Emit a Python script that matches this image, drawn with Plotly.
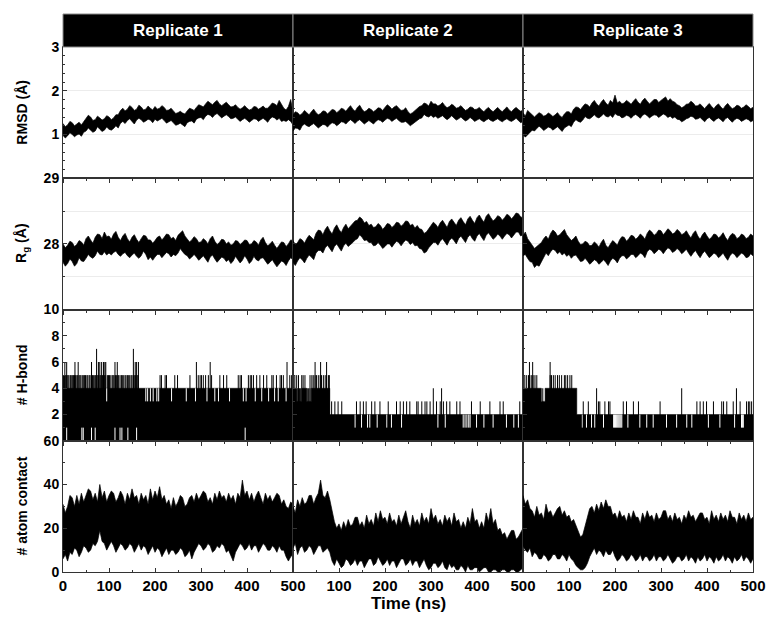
import plotly.graph_objects as go
from plotly.subplots import make_subplots

# ---------------- data ----------------
t_fine = list(range(0, 501, 5))

# RMSD (Å) envelopes, upper / lower, every 5 ns
rmsd_hi_r1 = [1.25,1.18,1.22,1.30,1.27,1.20,1.24,1.28,1.22,1.30,1.36,1.44,1.40,1.32,1.34,1.42,1.38,1.33,1.36,1.43,1.40,1.34,1.38,1.45,1.45,1.55,1.60,1.54,1.58,1.66,1.62,1.55,1.58,1.67,1.63,1.56,1.58,1.65,1.60,1.56,1.64,1.58,1.60,1.66,1.62,1.55,1.56,1.60,1.54,1.48,1.50,1.53,1.49,1.47,1.54,1.60,1.58,1.55,1.62,1.68,1.66,1.63,1.70,1.76,1.72,1.68,1.74,1.78,1.70,1.66,1.70,1.74,1.68,1.63,1.64,1.68,1.62,1.58,1.61,1.66,1.60,1.56,1.58,1.64,1.63,1.58,1.61,1.65,1.60,1.60,1.66,1.72,1.70,1.66,1.78,1.68,1.60,1.56,1.64,1.80,1.50]
rmsd_lo_r1 = [0.98,0.92,0.97,1.04,1.00,0.95,0.99,1.01,0.96,1.05,1.08,1.15,1.10,1.05,1.08,1.18,1.12,1.07,1.10,1.17,1.12,1.10,1.14,1.20,1.15,1.26,1.30,1.25,1.32,1.36,1.30,1.24,1.33,1.37,1.34,1.28,1.31,1.35,1.33,1.27,1.35,1.31,1.34,1.37,1.32,1.26,1.29,1.32,1.27,1.21,1.23,1.26,1.22,1.18,1.27,1.30,1.31,1.26,1.35,1.38,1.39,1.34,1.42,1.46,1.44,1.39,1.45,1.48,1.43,1.38,1.42,1.45,1.41,1.36,1.37,1.40,1.35,1.30,1.34,1.37,1.33,1.28,1.32,1.36,1.35,1.30,1.34,1.37,1.33,1.28,1.36,1.40,1.38,1.33,1.37,1.30,1.32,1.30,1.34,1.30,1.22]
rmsd_hi_r2 = [1.45,1.52,1.50,1.44,1.48,1.55,1.50,1.45,1.52,1.58,1.50,1.45,1.48,1.54,1.53,1.47,1.52,1.57,1.56,1.50,1.54,1.60,1.58,1.53,1.60,1.66,1.58,1.53,1.62,1.67,1.58,1.52,1.55,1.60,1.57,1.52,1.56,1.61,1.60,1.55,1.62,1.68,1.64,1.58,1.63,1.66,1.60,1.55,1.56,1.61,1.52,1.47,1.50,1.55,1.58,1.64,1.66,1.72,1.70,1.65,1.76,1.70,1.70,1.65,1.68,1.73,1.66,1.61,1.64,1.69,1.66,1.60,1.62,1.66,1.60,1.55,1.58,1.63,1.62,1.57,1.58,1.62,1.56,1.52,1.58,1.62,1.56,1.52,1.57,1.62,1.56,1.52,1.58,1.63,1.56,1.52,1.58,1.62,1.57,1.53,1.56]
rmsd_lo_r2 = [1.08,1.15,1.14,1.10,1.20,1.24,1.20,1.18,1.22,1.25,1.20,1.15,1.19,1.23,1.22,1.17,1.23,1.27,1.25,1.20,1.24,1.29,1.28,1.24,1.30,1.34,1.30,1.25,1.31,1.34,1.29,1.24,1.28,1.32,1.28,1.24,1.30,1.34,1.32,1.28,1.33,1.37,1.35,1.30,1.34,1.37,1.32,1.28,1.28,1.30,1.25,1.20,1.23,1.28,1.32,1.36,1.38,1.46,1.42,1.40,1.44,1.39,1.42,1.37,1.40,1.43,1.38,1.34,1.38,1.43,1.38,1.33,1.36,1.40,1.35,1.31,1.34,1.39,1.35,1.30,1.33,1.36,1.32,1.29,1.33,1.36,1.32,1.30,1.33,1.36,1.32,1.29,1.33,1.36,1.32,1.30,1.33,1.37,1.32,1.27,1.30]
rmsd_hi_r3 = [1.50,1.42,1.55,1.50,1.46,1.40,1.45,1.50,1.47,1.42,1.44,1.49,1.46,1.41,1.45,1.50,1.43,1.39,1.47,1.52,1.52,1.47,1.58,1.63,1.62,1.57,1.64,1.70,1.68,1.63,1.72,1.78,1.70,1.65,1.74,1.80,1.72,1.67,1.78,1.72,1.90,1.72,1.76,1.70,1.72,1.78,1.74,1.69,1.76,1.82,1.74,1.69,1.78,1.83,1.76,1.70,1.75,1.80,1.80,1.73,1.78,1.83,1.86,1.76,1.82,1.76,1.74,1.68,1.66,1.61,1.64,1.69,1.70,1.76,1.72,1.65,1.66,1.70,1.64,1.59,1.66,1.71,1.64,1.59,1.66,1.70,1.63,1.58,1.66,1.71,1.64,1.59,1.62,1.67,1.65,1.60,1.63,1.68,1.64,1.59,1.62]
rmsd_lo_r3 = [1.00,0.94,0.98,1.05,1.10,1.08,1.14,1.19,1.15,1.09,1.13,1.17,1.15,1.10,1.14,1.18,1.12,1.07,1.15,1.19,1.22,1.18,1.28,1.34,1.30,1.28,1.33,1.41,1.37,1.36,1.40,1.45,1.40,1.38,1.42,1.47,1.42,1.40,1.44,1.39,1.48,1.44,1.43,1.38,1.40,1.44,1.42,1.37,1.43,1.46,1.42,1.37,1.44,1.47,1.43,1.38,1.42,1.45,1.44,1.39,1.43,1.47,1.44,1.39,1.42,1.37,1.40,1.35,1.34,1.29,1.32,1.36,1.38,1.42,1.40,1.35,1.36,1.39,1.34,1.29,1.36,1.39,1.34,1.30,1.35,1.38,1.34,1.29,1.36,1.39,1.33,1.28,1.34,1.37,1.35,1.30,1.33,1.36,1.34,1.29,1.32]

# Radius of gyration (Å), every 5 ns
rg_hi_r1 = [28.00,27.94,27.98,28.04,28.02,27.96,27.99,28.05,28.03,27.98,28.08,28.12,28.06,28.01,28.10,28.15,28.14,28.08,28.18,28.11,28.12,28.07,28.15,28.19,28.10,28.05,28.12,28.16,28.08,28.03,28.10,28.14,28.07,28.02,28.08,28.13,28.12,28.06,28.06,28.01,28.05,28.10,28.12,28.06,28.10,28.15,28.14,28.08,28.10,28.05,28.13,28.17,28.20,28.12,28.08,28.03,28.06,28.11,28.08,28.02,28.03,28.08,28.05,28.00,28.08,28.12,28.04,27.99,28.02,28.07,28.06,28.00,28.03,27.98,28.00,28.05,28.04,27.99,28.02,28.06,28.05,27.99,28.00,28.05,28.03,27.98,28.06,28.10,28.02,27.97,28.00,28.04,27.98,27.93,27.98,28.03,28.02,27.96,28.00,28.06,28.05]
rg_lo_r1 = [27.72,27.66,27.70,27.77,27.73,27.66,27.70,27.79,27.74,27.73,27.78,27.84,27.80,27.78,27.82,27.89,27.84,27.83,27.88,27.83,27.86,27.83,27.87,27.89,27.84,27.81,27.85,27.87,27.82,27.79,27.83,27.86,27.81,27.78,27.82,27.89,27.84,27.76,27.80,27.75,27.80,27.84,27.84,27.79,27.83,27.87,27.85,27.80,27.84,27.82,27.86,27.93,27.88,27.84,27.82,27.77,27.80,27.84,27.80,27.75,27.78,27.82,27.77,27.72,27.80,27.83,27.77,27.72,27.76,27.80,27.78,27.73,27.76,27.70,27.74,27.81,27.76,27.71,27.75,27.82,27.77,27.70,27.74,27.81,27.76,27.74,27.78,27.79,27.74,27.69,27.72,27.76,27.70,27.65,27.70,27.74,27.72,27.67,27.74,27.79,27.76]
rg_hi_r2 = [28.05,27.99,28.02,28.08,28.06,28.01,28.08,28.13,28.10,28.06,28.16,28.21,28.20,28.14,28.22,28.27,28.20,28.15,28.24,28.29,28.22,28.17,28.25,28.30,28.23,28.27,28.30,28.35,28.36,28.41,28.38,28.32,28.34,28.28,28.30,28.25,28.26,28.31,28.28,28.22,28.26,28.31,28.30,28.25,28.28,28.33,28.32,28.27,28.30,28.35,28.34,28.28,28.30,28.24,28.28,28.23,28.22,28.16,28.18,28.24,28.28,28.33,28.30,28.25,28.32,28.36,28.30,28.25,28.34,28.38,28.33,28.28,28.36,28.40,28.34,28.29,28.38,28.42,28.36,28.31,28.40,28.44,28.38,28.33,28.42,28.46,28.40,28.35,28.38,28.43,28.41,28.36,28.40,28.45,28.43,28.38,28.42,28.47,28.46,28.41,28.40]
rg_lo_r2 = [27.72,27.67,27.74,27.79,27.76,27.71,27.78,27.83,27.80,27.76,27.86,27.90,27.90,27.86,27.94,27.98,27.93,27.88,27.96,28.00,27.94,27.89,27.97,28.01,27.96,27.99,28.02,28.06,28.08,28.14,28.10,28.05,28.06,28.02,28.02,27.97,27.98,28.02,27.98,27.93,27.96,28.00,28.00,27.95,28.00,28.04,28.02,27.97,28.02,28.06,28.04,27.99,28.02,27.97,27.98,27.93,27.92,27.86,27.88,27.94,27.98,28.02,28.02,27.98,28.04,28.08,28.03,27.98,28.05,28.09,28.05,28.00,28.08,28.12,28.07,28.02,28.10,28.14,28.08,28.04,28.12,28.16,28.10,28.05,28.13,28.17,28.12,28.07,28.10,28.15,28.12,28.07,28.12,28.16,28.14,28.09,28.14,28.18,28.18,28.12,28.14]
rg_hi_r3 = [28.12,28.18,28.08,28.02,27.98,27.93,27.96,28.00,28.02,28.08,28.12,28.07,28.16,28.21,28.18,28.12,28.14,28.18,28.22,28.14,28.10,28.05,28.08,28.12,28.04,27.99,28.00,28.04,28.02,27.97,27.98,28.03,28.00,27.95,28.02,28.07,27.98,27.94,28.00,28.05,28.02,27.98,28.06,28.11,28.10,28.04,28.08,28.13,28.12,28.07,28.10,28.15,28.12,28.07,28.16,28.21,28.18,28.13,28.16,28.21,28.20,28.14,28.18,28.23,28.20,28.15,28.17,28.22,28.19,28.14,28.16,28.20,28.14,28.09,28.16,28.20,28.12,28.07,28.14,28.18,28.12,28.07,28.10,28.15,28.14,28.09,28.12,28.17,28.10,28.05,28.12,28.16,28.14,28.08,28.10,28.15,28.13,28.08,28.10,28.15,28.12]
rg_lo_r3 = [27.82,27.84,27.78,27.73,27.72,27.64,27.68,27.66,27.72,27.80,27.86,27.82,27.88,27.92,27.90,27.85,27.88,27.83,27.86,27.81,27.84,27.78,27.82,27.83,27.78,27.73,27.74,27.78,27.74,27.69,27.72,27.76,27.74,27.69,27.72,27.76,27.72,27.67,27.74,27.78,27.76,27.71,27.78,27.82,27.82,27.77,27.80,27.84,27.84,27.79,27.82,27.86,27.84,27.79,27.88,27.92,27.90,27.85,27.88,27.92,27.90,27.85,27.90,27.94,27.92,27.87,27.89,27.93,27.90,27.85,27.88,27.92,27.86,27.81,27.86,27.90,27.84,27.79,27.85,27.89,27.84,27.79,27.82,27.86,27.84,27.79,27.82,27.86,27.80,27.75,27.82,27.86,27.84,27.79,27.82,27.86,27.84,27.79,27.80,27.85,27.82]

# Atom contacts, upper / lower, every 5 ns
ac_hi_r1 = [31,27,30,35,34,30,35,31,36,32,35,38,37,33,36,32,40,34,37,32,35,37,36,32,34,37,35,31,36,33,38,34,35,31,36,33,35,31,38,33,37,34,39,33,35,31,33,29,34,30,32,35,34,30,31,34,35,32,36,33,35,37,36,32,34,31,36,33,37,34,35,32,36,33,35,31,36,34,42,35,37,33,36,32,35,37,34,31,36,33,35,32,34,36,35,31,33,30,29,32,31]
ac_lo_r1 = [6,8,5,9,8,11,10,7,9,12,11,9,10,13,12,14,19,14,13,10,12,14,12,9,11,13,12,10,11,13,12,9,11,13,10,12,11,8,10,12,9,11,10,7,9,11,8,10,10,8,9,11,10,7,8,10,6,9,11,13,12,10,11,13,12,9,10,12,11,13,12,9,10,8,5,9,11,13,12,10,11,13,10,12,12,9,11,13,12,10,10,12,11,9,12,10,10,7,5,7,8]
ac_hi_r2 = [30,27,33,30,34,31,32,35,35,31,34,36,42,35,34,37,33,28,23,20,22,19,23,20,24,21,22,25,25,21,23,20,26,22,24,21,27,23,28,24,25,22,27,23,24,21,26,22,25,28,23,20,26,22,24,21,27,23,25,22,29,24,26,22,24,21,26,23,25,21,27,23,24,20,23,20,25,22,29,23,24,20,23,20,27,23,29,22,24,19,20,17,18,15,17,19,19,15,16,18,20]
ac_lo_r2 = [11,13,8,11,12,9,10,12,11,8,10,12,12,9,10,11,9,5,3,6,4,2,3,6,5,3,4,6,3,5,5,2,4,6,6,3,4,7,5,3,4,6,3,5,5,2,4,6,6,3,4,6,3,5,5,2,4,6,3,1,2,4,4,2,3,5,2,1,4,2,3,1,1,3,2,0,3,1,1,2,2,0,1,2,2,0,0,1,1,0,0,1,1,0,0,1,1,0,0,1,2]
ac_hi_r3 = [35,31,33,29,28,25,30,26,27,24,31,27,28,25,27,29,30,26,28,25,26,23,24,21,18,16,17,21,26,29,30,27,31,28,32,29,33,30,30,26,27,24,28,25,26,23,27,24,28,25,25,22,27,24,28,25,26,23,27,24,25,28,28,24,26,23,27,24,25,22,26,24,28,25,26,23,25,27,27,24,25,22,28,24,26,23,27,24,26,23,28,25,25,22,27,24,26,23,27,24,25]
ac_lo_r3 = [12,10,9,11,7,9,8,6,6,8,7,5,6,8,8,6,6,8,7,5,8,6,5,3,2,1,1,2,4,7,9,11,8,10,9,7,10,8,8,10,7,5,6,8,7,5,6,8,7,5,6,8,5,7,7,5,6,8,5,7,7,5,6,8,6,4,5,7,7,5,6,8,5,7,6,4,7,5,6,8,5,7,6,4,7,5,6,8,5,7,6,4,7,5,6,8,5,7,6,4,6]

# H-bonds: solid level segments (start time, level)
hb_seg_t_r1 = [0]
hb_seg_v_r1 = [4]
hb_seg_t_r2 = [0, 7, 19, 30, 40, 80]
hb_seg_v_r2 = [4, 3, 4, 3, 4, 2]
hb_seg_t_r3 = [0, 40, 48, 117]
hb_seg_v_r3 = [4, 3, 4, 2]

# H-bonds: single-frame spikes (times reaching the given count)
hb_spk5_r1 = [1,3,5,7,9,11,13,16,18,21,23,25,27,30,32,35,37,39,42,45,47,49,52,54,57,59,62,64,66,69,71,74,76,78,81,83,86,88,90,93,97,99,101,104,107,109,111,114,116,119,121,124,127,129,132,135,137,140,142,145,148,150,153,156,158,161,163,
              211,214,222,225,243,249,276,294,298,301,305,310,316,323,341,349,356,381,385,388,403,407,410,414,421,428,436,443,454,457,464,472,475,479,493,497]
hb_spk6_r1 = [4,8,26,33,62,77,80,84,88,91,93,113,118,157,160,164,290,320,487]
hb_spk7_r1 = [73,153]
hb_spk3_r2 = [84,91,98,106,138,146,153,159,171,178,189,207,225,233,240,247,254,269,272,280,287,291,298,312,320,327,334,341,356,363,388,407,428,450,457,493,499]
hb_spk4_r2 = [9,11,14,16,31,34,37,305,323]
hb_spk5_r2 = [4,8,12,19,22,26,37,41,44,48,51,55,59,62,66,70,73,77,79]
hb_spk6_r2 = [48,60,73]
hb_spk3_r3 = [131,142,164,167,178,186,189,218,225,240,251,298,378,385,392,399,414,432,436,443,457,472,486,490,493,497]
hb_spk4_r3 = [43,160,345,464]
hb_spk5_r3 = [4,8,12,15,19,22,26,30,59,62,66,70,75,79,84,90,93,97,102,106]
hb_spk6_r3 = [14,21,59]

# H-bonds: frames where a band is not covered (time)
hb_gap01_r1 = [8,41,44,62,70,113,124,128,141,160,396]
hb_gap34_r1 = [95,180,184,190,196,204,208,236,268,288,313,330,338,362,392,398,418,432,447,460,468,485]
hb_gap12_r2 = [135,149,162,167,183,204,214,236,315,331,370,374,378,382,385,399,415,435,464,480,490]
hb_gap12_r3 = [129,138,149,156,175,197,199,201,203,205,207,209,211,213,215,228,254,269,283,312,334,356,367,403,428,460,475,477,479]

replicates = ["Replicate 1", "Replicate 2", "Replicate 3"]
x_ticks = [0, 100, 200, 300, 400, 500]
rmsd_ticks = [1, 2, 3]
rg_ticks = [28, 29]
hb_ticks = [2, 4, 6, 8, 10]
ac_ticks = [0, 20, 40, 60]
row_titles = ["RMSD (Å)", "R<sub>g</sub> (Å)", "# H-bond", "# atom contact"]

# ---------------- figure ----------------
W, H = 767, 620
ML, MR, MT, MB = 63, 14, 47, 48
PW, PH = W - ML - MR, H - MT - MB

fig = make_subplots(rows=4, cols=3, horizontal_spacing=0, vertical_spacing=0)

FONT = "Liberation Sans, Arial, sans-serif"


def band(hi, lo, row, col):
    tt = t_fine[:min(len(hi), len(lo))]
    hi, lo = hi[:len(tt)], lo[:len(tt)]
    fig.add_trace(go.Scatter(
        x=tt + tt[::-1], y=hi + lo[::-1], mode="lines",
        fill="toself", fillcolor="black",
        line=dict(color="black", width=0.7), hoverinfo="skip", showlegend=False),
        row=row, col=col)


def steps(seg_t, seg_v, col):
    xs, ys = [0], [0]
    for i, (s, v) in enumerate(zip(seg_t, seg_v)):
        e = seg_t[i + 1] if i + 1 < len(seg_t) else 500
        xs += [s, e]
        ys += [v, v]
    xs += [500, 0]
    ys += [0, 0]
    fig.add_trace(go.Scatter(x=xs, y=ys, mode="lines", fill="toself",
                             fillcolor="black", line=dict(color="black", width=0.5),
                             hoverinfo="skip", showlegend=False), row=3, col=col)


def lines(times, lo, hi, col, color):
    xs, ys = [], []
    for t in times:
        xs += [t, t, None]
        ys += [lo, hi, None]
    fig.add_trace(go.Scatter(x=xs, y=ys, mode="lines",
                             line=dict(color=color, width=1),
                             hoverinfo="skip", showlegend=False), row=3, col=col)


band(rmsd_hi_r1, rmsd_lo_r1, 1, 1)
band(rmsd_hi_r2, rmsd_lo_r2, 1, 2)
band(rmsd_hi_r3, rmsd_lo_r3, 1, 3)
band(rg_hi_r1, rg_lo_r1, 2, 1)
band(rg_hi_r2, rg_lo_r2, 2, 2)
band(rg_hi_r3, rg_lo_r3, 2, 3)
band(ac_hi_r1, ac_lo_r1, 4, 1)
band(ac_hi_r2, ac_lo_r2, 4, 2)
band(ac_hi_r3, ac_lo_r3, 4, 3)

# replicate 1 H-bonds
steps(hb_seg_t_r1, hb_seg_v_r1, 1)
lines(hb_spk5_r1, 0, 5, 1, "black")
lines(hb_spk6_r1, 0, 6, 1, "black")
lines(hb_spk7_r1, 0, 7, 1, "black")
lines(hb_gap01_r1, 0, 1, 1, "white")
lines(hb_gap34_r1, 3, 4, 1, "white")
# replicate 2 H-bonds
steps(hb_seg_t_r2, hb_seg_v_r2, 2)
lines(hb_gap12_r2, 1, 2, 2, "white")
lines(hb_spk3_r2, 0, 3, 2, "black")
lines(hb_spk4_r2, 0, 4, 2, "black")
lines(hb_spk5_r2, 0, 5, 2, "black")
lines(hb_spk6_r2, 0, 6, 2, "black")
# replicate 3 H-bonds
steps(hb_seg_t_r3, hb_seg_v_r3, 3)
lines(hb_gap12_r3, 1, 2, 3, "white")
lines(hb_spk3_r3, 0, 3, 3, "black")
lines(hb_spk4_r3, 0, 4, 3, "black")
lines(hb_spk5_r3, 0, 5, 3, "black")
lines(hb_spk6_r3, 0, 6, 3, "black")

AX = "#333333"
row_cfg = {
    1: dict(range=[0, 3], tickvals=rmsd_ticks, minor=0.2, grid=True, mgrid=False),
    2: dict(range=[27, 29], tickvals=rg_ticks, minor=0.5, grid=True, mgrid=True),
    3: dict(range=[0, 10], tickvals=hb_ticks, minor=1, grid=False, mgrid=False),
    4: dict(range=[0, 60], tickvals=ac_ticks, minor=10, grid=False, mgrid=False),
}

for r in range(1, 5):
    for c in range(1, 4):
        cfg = row_cfg[r]
        fig.update_yaxes(
            range=cfg["range"], tickvals=cfg["tickvals"], automargin=False,
            ticks="inside", ticklen=4, tickwidth=1, tickcolor=AX,
            showline=True, linecolor=AX, linewidth=1, mirror=True,
            showgrid=cfg["grid"], gridcolor="#ececec", gridwidth=1, zeroline=False,
            showticklabels=(c == 1),
            tickfont=dict(family=FONT, size=14, color="black", weight="bold"),
            minor=dict(dtick=cfg["minor"], tick0=0, ticks="inside", ticklen=2,
                       tickcolor=AX, showgrid=cfg["mgrid"], gridcolor="#ececec"),
            row=r, col=c)
        fig.update_xaxes(
            range=[0, 500], automargin=False,
            tickvals=(x_ticks if c == 1 else x_ticks[1:]),
            ticks=("inside" if r == 4 else "outside"), ticklen=4, tickwidth=1, tickcolor=AX,
            showline=True, linecolor=AX, linewidth=1, mirror=True,
            showgrid=False, zeroline=False,
            showticklabels=(r == 4),
            tickfont=dict(family=FONT, size=15, color="black", weight="bold"),
            minor=dict(dtick=50, tick0=0, ticks=("inside" if r == 4 else "outside"),
                       ticklen=2, tickcolor=AX),
            row=r, col=c)

# header boxes
hdr_h = 33 / PH
for i, name in enumerate(replicates):
    fig.add_shape(type="rect", xref="paper", yref="paper",
                  x0=i / 3, x1=(i + 1) / 3, y0=1, y1=1 + hdr_h,
                  fillcolor="black", line=dict(color="#8a8a8a", width=1))
    fig.add_annotation(xref="paper", yref="paper", x=(i + 0.5) / 3, y=1 + hdr_h / 2,
                       text=name, showarrow=False, xanchor="center", yanchor="middle",
                       font=dict(family=FONT, size=17, color="white", weight="bold"))

# row titles
for k, title in enumerate(row_titles):
    fig.add_annotation(xref="paper", yref="paper", x=(22 - ML) / PW,
                       y=1 - (k + 0.5) / 4, text=title, textangle=-90, showarrow=False,
                       xanchor="center", yanchor="middle",
                       font=dict(family=FONT, size=14, color="black", weight="bold"))

fig.add_annotation(xref="paper", yref="paper", x=0.5, y=-(603 - (H - MB)) / PH,
                   text="Time (ns)", showarrow=False, xanchor="center", yanchor="middle",
                   font=dict(family=FONT, size=17, color="black", weight="bold"))

fig.update_layout(width=W, height=H, margin=dict(l=ML, r=MR, t=MT, b=MB),
                  plot_bgcolor="white", paper_bgcolor="white", showlegend=False,
                  hovermode=False,
                  font=dict(family=FONT, color="black"))

# remove the browser's default page margin so the figure fills the window exactly
fig.write_html("out.html",
               config={"displayModeBar": False, "staticPlot": True},
               post_script="document.body.style.margin='0';"
                           "document.body.style.overflow='hidden';")
